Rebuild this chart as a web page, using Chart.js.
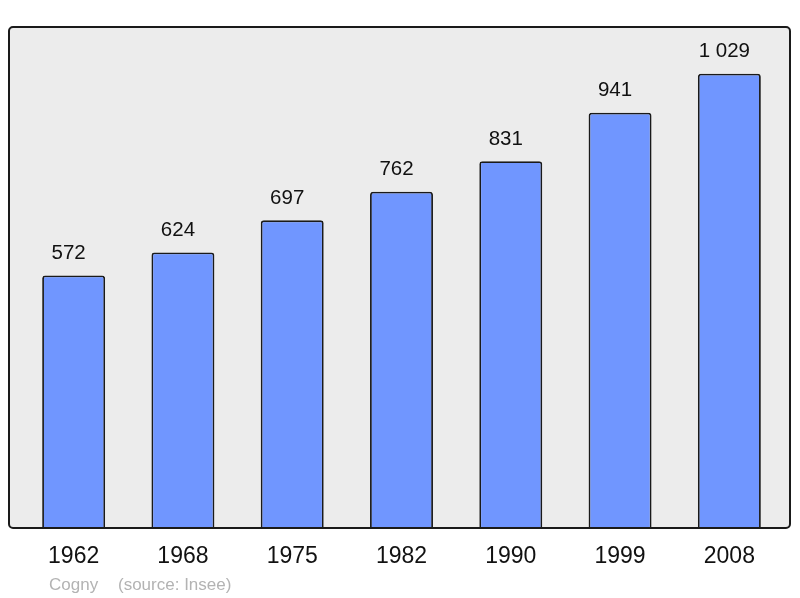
<!DOCTYPE html>
<html>
<head>
<meta charset="utf-8">
<script src="https://cdn.jsdelivr.net/npm/chart.js@4"></script>
<style>
  html, body { margin: 0; padding: 0; background: #fff; }
  #wrap { width: 800px; height: 598px; }
</style>
</head>
<body>
<div id="wrap"><canvas id="chart" width="800" height="598"></canvas></div>
<script>
// données de population
const annees = ['1962', '1968', '1975', '1982', '1990', '1999', '2008'];
const population = [572, 624, 697, 762, 831, 941, 1029];
const etiquettes = ['572', '624', '697', '762', '831', '941', '1 029'];
const commune = 'Cogny';
const source = '(source: Insee)';

// fond gris + cadre arrondi, puis textes
const cadrePlugin = {
    id: 'cadre',
    beforeDatasetsDraw(chart) {
        const { ctx, chartArea } = chart;
        const x0 = chartArea.left - 10, x1 = chartArea.right + 6;
        const y0 = chartArea.top, y1 = chartArea.bottom;
        ctx.save();
        ctx.beginPath();
        ctx.roundRect(x0, y0, x1 - x0, y1 - y0, 4);
        ctx.fillStyle = '#ececec';
        ctx.fill();
        ctx.restore();
    },
    afterDatasetsDraw(chart) {
        const { ctx, chartArea } = chart;
        const x0 = chartArea.left - 10, x1 = chartArea.right + 6;
        const y0 = chartArea.top, y1 = chartArea.bottom;
        ctx.save();
        ctx.beginPath();
        ctx.roundRect(x0, y0, x1 - x0, y1 - y0, 4);
        ctx.lineWidth = 2;
        ctx.strokeStyle = '#1a1a1a';
        ctx.stroke();

        const xs = chart.scales.x, ys = chart.scales.y;
        ctx.fillStyle = '#111';
        ctx.textAlign = 'center';
        ctx.textBaseline = 'middle';
        ctx.font = '20.5px "Liberation Sans", Arial, sans-serif';
        population.forEach((v, i) => {
            ctx.fillText(etiquettes[i], xs.getPixelForValue(i) - 5, ys.getPixelForValue(v) - 22);
        });
        ctx.font = '23px "Liberation Sans", Arial, sans-serif';
        annees.forEach((a, i) => {
            ctx.fillText(a, xs.getPixelForValue(i), chartArea.bottom + 29);
        });
        ctx.fillStyle = '#b3b3b3';
        ctx.textAlign = 'left';
        ctx.font = '17px "Liberation Sans", Arial, sans-serif';
        ctx.fillText(commune, 49, chartArea.bottom + 57);
        ctx.fillText(source, 118, chartArea.bottom + 57);
        ctx.restore();
    }
};

new Chart(document.getElementById('chart').getContext('2d'), {
    type: 'bar',
    data: {
        labels: annees,
        datasets: [{
            data: population,
            backgroundColor: '#7096ff',
            borderColor: '#1a1a1a',
            borderWidth: 1.8,
            borderRadius: 3,
            borderSkipped: 'bottom',
            barPercentage: 0.576,
            categoryPercentage: 1
        }]
    },
    options: {
        responsive: false,
        animation: false,
        layout: { padding: { left: 19, right: 16, top: 27, bottom: 70 } },
        plugins: { legend: { display: false }, tooltip: { enabled: false } },
        scales: {
            x: { display: false },
            y: { display: false, min: 0, max: 1135 }
        }
    },
    plugins: [cadrePlugin]
});
</script>
</body>
</html>
